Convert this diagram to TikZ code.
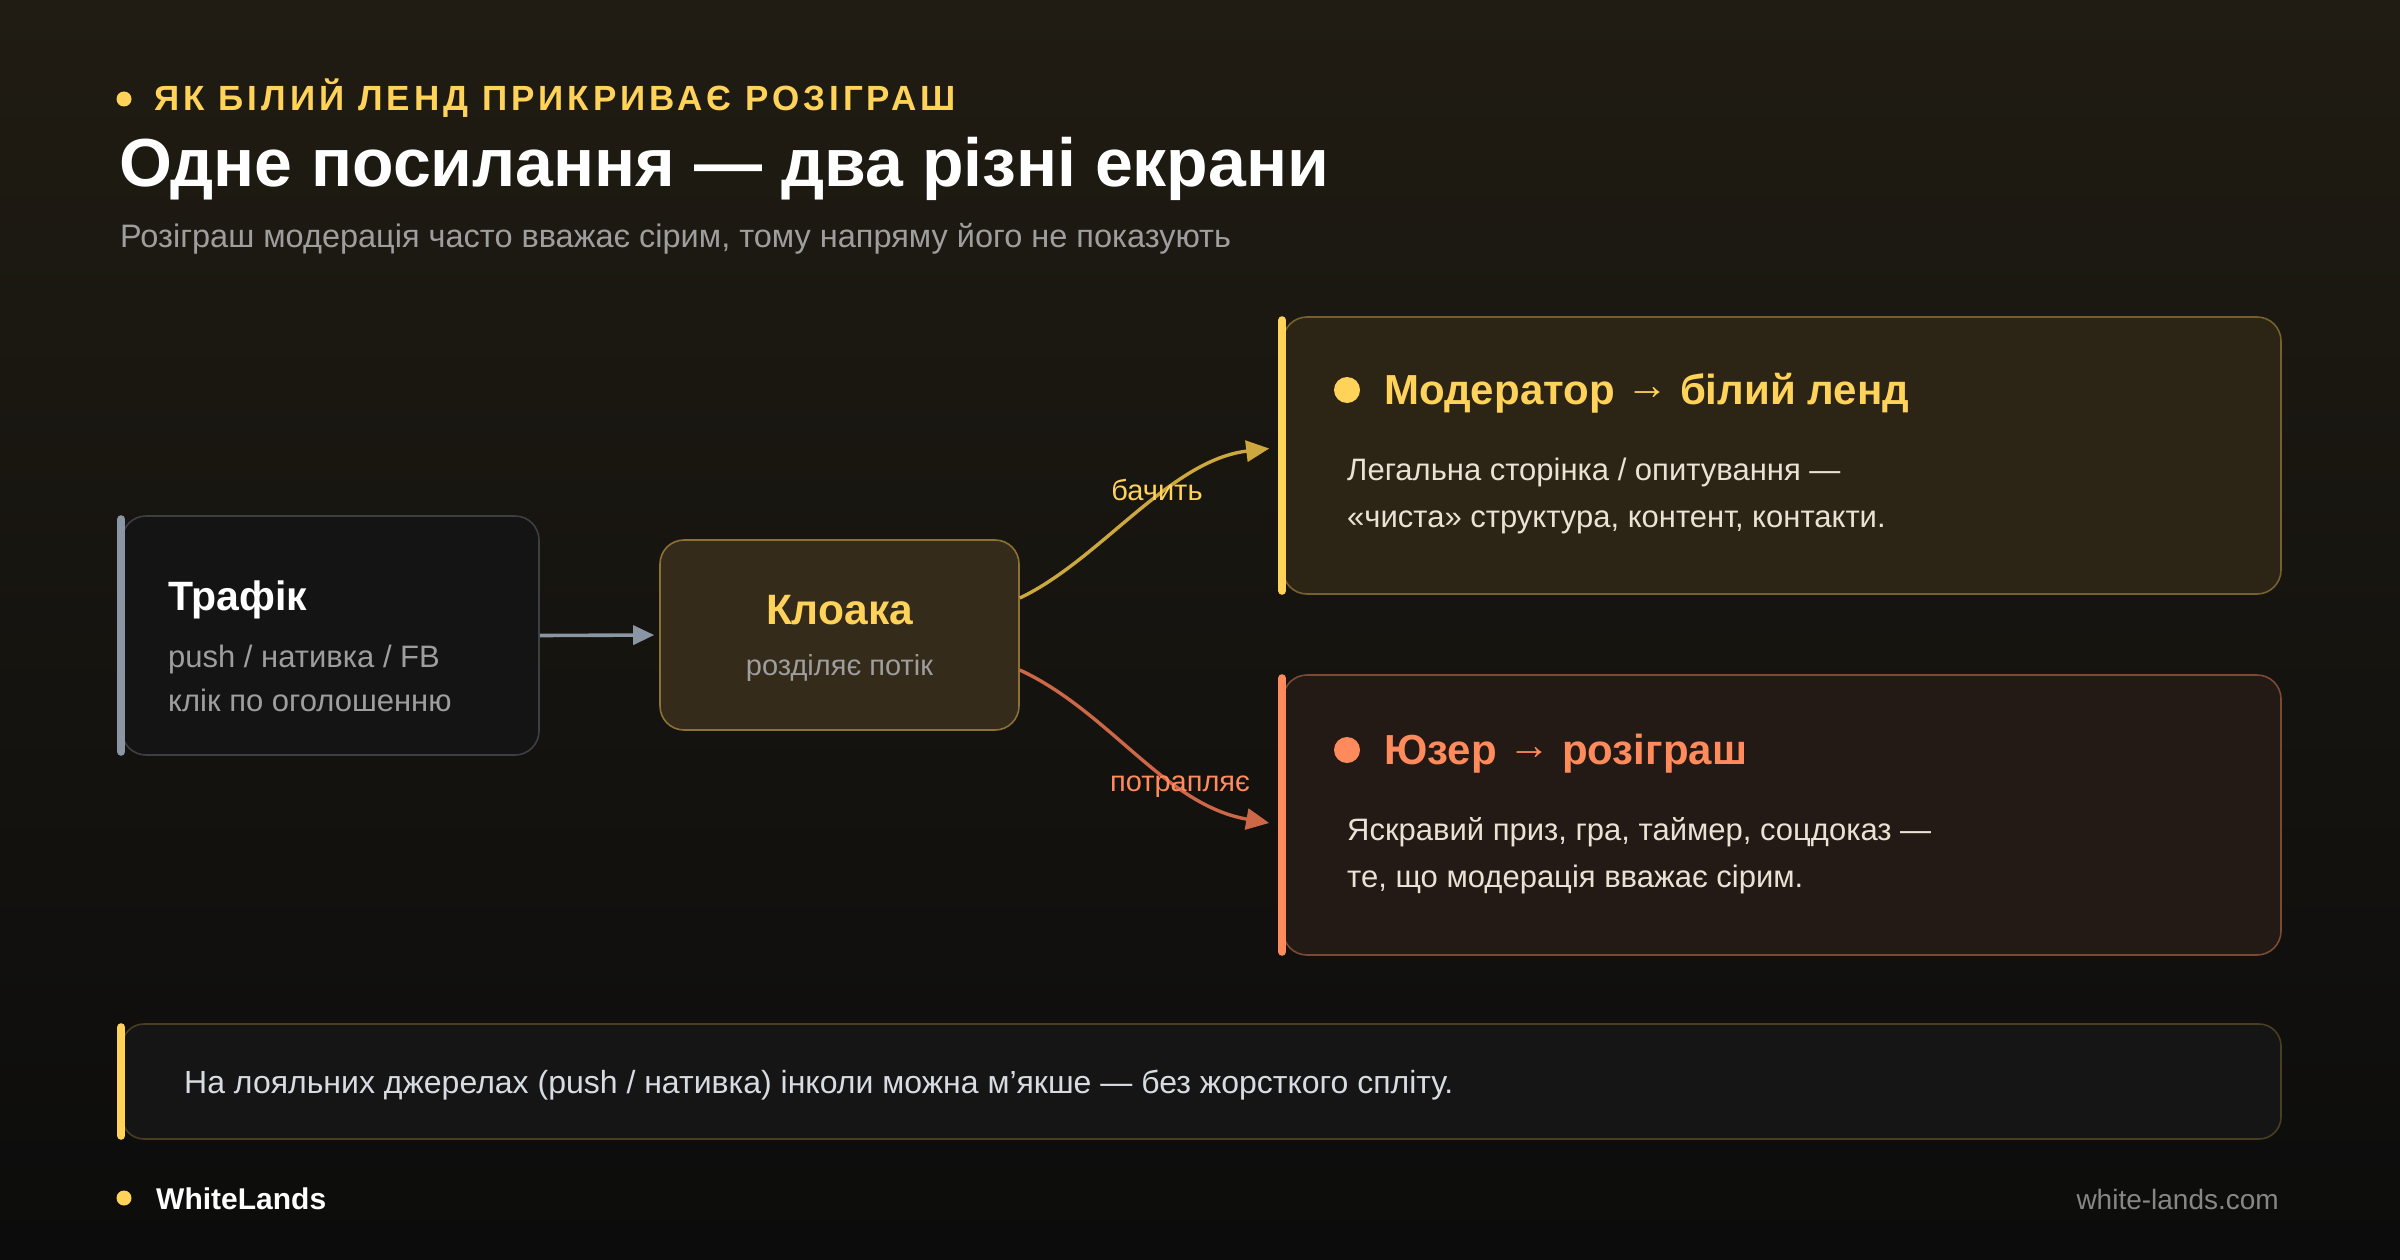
\documentclass[tikz,border=0pt]{standalone}
\usepackage{fontspec}
\setmainfont{Liberation Sans}
\usetikzlibrary{arrows.meta,positioning,calc}
\definecolor{bgtop}{RGB}{32,28,19}
\definecolor{bgbot}{RGB}{12,12,12}
\definecolor{wlgold}{RGB}{255,210,90}
\definecolor{wlorange}{RGB}{255,138,92}
\definecolor{slate}{RGB}{138,150,163}
\definecolor{cardfill}{RGB}{20,20,21}
\definecolor{cardedge}{RGB}{60,63,68}
\definecolor{midfill}{RGB}{52,43,26}
\definecolor{midedge}{RGB}{140,112,52}
\definecolor{modfill}{RGB}{44,37,22}
\definecolor{modedge}{RGB}{118,96,46}
\definecolor{usrfill}{RGB}{36,26,21}
\definecolor{usredge}{RGB}{122,74,50}
\definecolor{notefill}{RGB}{21,21,21}
\definecolor{noteedge}{RGB}{74,62,32}
\definecolor{mutedtxt}{RGB}{158,158,158}
\definecolor{softtxt}{RGB}{234,226,212}
\definecolor{notetxt}{RGB}{216,220,226}
\definecolor{urltxt}{RGB}{135,135,135}
\definecolor{flowgold}{RGB}{204,168,62}
\definecolor{flowrust}{RGB}{204,104,72}
\newcommand{\fsz}[1]{\fontsize{#1}{#1}\selectfont}
\newcommand{\hdarrow}{\raisebox{5pt}{→}}
\tikzset{
  card/.style={rounded corners=24pt, line width=1.6pt},
  sidebar/.style={line width=8pt, line cap=round},
  txt/.style={inner sep=0pt, anchor=base west},
  flowln/.style={line width=3.6pt, -{Triangle[length=21pt,width=19pt]}},
  curveln/.style={line width=3.4pt, -{Triangle[length=23pt,width=21pt]}},
  dotmark/.style={circle, inner sep=0pt, minimum size=#1},
}

\begin{document}
\begin{tikzpicture}[x=1pt, y=-1pt]
    \shade[top color=bgtop, bottom color=bgbot] (0,0) rectangle (2400,1260);
    % heading
    \node[dotmark=15pt, fill=wlgold] (kdot) at (124,99) {};
    \node[txt, anchor=west, text=wlgold, font=\bfseries\fsz{35}\addfontfeature{LetterSpace=11.5}] (kicker) at (154,98) {ЯК БІЛИЙ ЛЕНД ПРИКРИВАЄ РОЗІГРАШ};
    \node[txt, text=white, font=\bfseries\fsz{68}] (title) at (119,187) {Одне посилання — два різні екрани};
    \node[txt, text=mutedtxt, font=\fsz{32.5}] (subtitle) at (120,247) {Розіграш модерація часто вважає сірим, тому напряму його не показують};
    % traffic source
    \node[card, draw=cardedge, fill=cardfill, minimum width=417pt, minimum height=239pt] (traffic) at (330.5,635.5) {};
    \draw[sidebar, slate] ($(traffic.north west)+(0,4)$) -- ($(traffic.south west)+(0,-4)$);
    \node[txt, text=white, font=\bfseries\fsz{41}] (traffichd) at (168,610) {Трафік};
    \node[txt, text=mutedtxt, font=\fsz{31}] (trafficln1) at (168,667) {push / нативка / FB};
    \node[txt, text=mutedtxt, font=\fsz{31}] (trafficln2) at (168,711) {клік по оголошенню};
    % cloak splitter
    \node[card, draw=midedge, fill=midfill, minimum width=359pt, minimum height=190pt] (kloaka) at (839.5,635) {};
    \node[inner sep=0pt, anchor=base, text=wlgold, font=\bfseries\fsz{42.5}] (kloakahd) at (839.5,624) {Клоака};
    \node[inner sep=0pt, anchor=base, text=mutedtxt, font=\fsz{29}] (kloakasub) at (839.5,675) {розділяє потік};
    \draw[flowln, slate, shorten >=5pt] (traffic.east) -- (kloaka.west);
    % moderator screen
    \node[card, draw=modedge, fill=modfill, minimum width=998pt, minimum height=277pt] (moder) at (1782,455.5) {};
    \draw[sidebar, wlgold] ($(moder.north west)+(0,4)$) -- ($(moder.south west)+(0,-4)$);
    \node[dotmark=26pt, fill=wlgold] (moderdot) at (1347,390) {};
    \node[txt, text=wlgold, font=\bfseries\fsz{42}] (moderhd) at (1384,404) {Модератор \hdarrow{} білий ленд};
    \node[txt, text=softtxt, font=\fsz{31}] (moderln1) at (1347,480) {Легальна сторінка / опитування —};
    \node[txt, text=softtxt, font=\fsz{31}] (moderln2) at (1347,527) {«чиста» структура, контент, контакти.};
    % user screen
    \node[card, draw=usredge, fill=usrfill, minimum width=998pt, minimum height=280pt] (user) at (1782,815) {};
    \draw[sidebar, wlorange] ($(user.north west)+(0,4)$) -- ($(user.south west)+(0,-4)$);
    \node[dotmark=26pt, fill=wlorange] (userdot) at (1347,750) {};
    \node[txt, text=wlorange, font=\bfseries\fsz{42}] (userhd) at (1384,764) {Юзер \hdarrow{} розіграш};
    \node[txt, text=softtxt, font=\fsz{31}] (userln1) at (1347,840) {Яскравий приз, гра, таймер, соцдоказ —};
    \node[txt, text=softtxt, font=\fsz{31}] (userln2) at (1347,887) {те, що модерація вважає сірим.};
    % split curves
    \draw[curveln, flowgold] ($(kloaka.east)+(0,-37)$) .. controls (1100,560) and (1170,460) .. ($(moder.west)+(-13,-7)$);
    \draw[curveln, flowrust] ($(kloaka.east)+(0,35)$) .. controls (1110,712) and (1165,805) .. ($(user.west)+(-13,8)$);
    \node[inner sep=0pt, text=wlgold, font=\fsz{29}] (seeslbl) at (1157,490) {бачить};
    \node[inner sep=0pt, text=wlorange, font=\fsz{29}] (getslbl) at (1180,787) {потрапляє};
    % footnote bar
    \node[card, rounded corners=22pt, draw=noteedge, fill=notefill, minimum width=2159pt, minimum height=115pt] (note) at (1201.5,1081.5) {};
    \draw[sidebar, wlgold] ($(note.north west)+(0,4)$) -- ($(note.south west)+(0,-4)$);
    \node[txt, text=notetxt, font=\fsz{32}] (notetext) at (184,1093) {На лояльних джерелах (push / нативка) інколи можна м’якше — без жорсткого спліту.};
    % footer
    \node[dotmark=15pt, fill=wlgold] (fdot) at (124,1198) {};
    \node[txt, text=white, font=\bfseries\fsz{30}] (brand) at (156,1209) {WhiteLands};
    \node[txt, anchor=base east, text=urltxt, font=\fsz{28}] (site) at (2279,1209) {white-lands.com};
\end{tikzpicture}
\end{document}
